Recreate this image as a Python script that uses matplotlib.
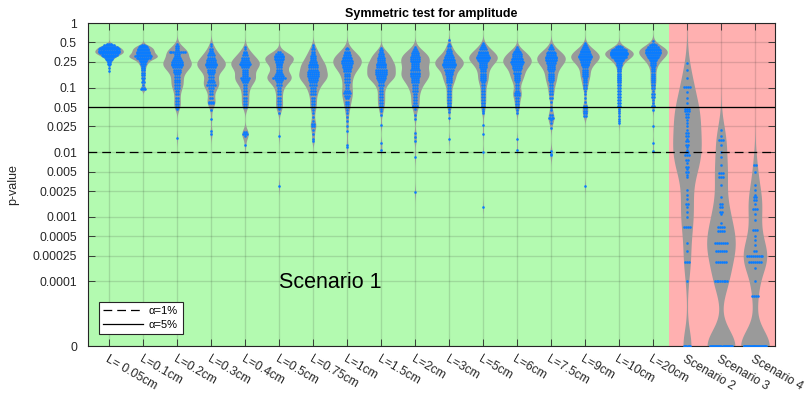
import numpy as np
import matplotlib
matplotlib.use('Agg')
import matplotlib.pyplot as plt
from matplotlib.transforms import ScaledTranslation

plt.rcParams['font.family'] = ['Liberation Sans', 'DejaVu Sans']

categories = ['L= 0.05cm', 'L=0.1cm', 'L=0.2cm', 'L=0.3cm', 'L=0.4cm', 'L=0.5cm',
              'L=0.75cm', 'L=1cm', 'L=1.5cm', 'L=2cm', 'L=3cm', 'L=5cm', 'L=6cm',
              'L=7.5cm', 'L=9cm', 'L=10cm', 'L=20cm', 'Scenario 2', 'Scenario 3', 'Scenario 4']

# p-values, as (value, number of runs at that value)
v_L005 = [0.47, 0.45, 0.43, 0.41, 0.39, 0.37, 0.355, 0.34, 0.325, 0.31, 0.295, 0.28, 0.265, 0.25,
          0.235, 0.22, 0.20, 0.18]
n_L005 = [3, 6, 9, 11, 12, 12, 12, 11, 9, 7, 5, 4, 3, 2, 2, 1, 1, 1]
v_L01 = [0.46, 0.44, 0.42, 0.40, 0.38, 0.36, 0.34, 0.32, 0.305, 0.29, 0.275, 0.26, 0.245, 0.23,
         0.215, 0.20, 0.185, 0.17, 0.155, 0.14, 0.13, 0.12, 0.11, 0.10, 0.095]
n_L01 = [2, 4, 5, 6, 6, 7, 7, 8, 10, 8, 5, 4, 3, 3, 2, 2, 2, 2, 2, 2, 1, 2, 1, 2, 3]
v_L02 = [0.47, 0.44, 0.41, 0.385, 0.36, 0.335, 0.31, 0.29, 0.27, 0.25, 0.235, 0.22, 0.205, 0.19,
         0.175, 0.16, 0.145, 0.13, 0.12, 0.11, 0.10, 0.09, 0.08, 0.07, 0.062, 0.055, 0.05, 0.047,
         0.0165]
n_L02 = [1, 2, 2, 2, 9, 3, 3, 4, 5, 6, 6, 6, 5, 4, 4, 3, 3, 3, 3, 3, 3, 2, 2, 2, 2, 2, 2, 1, 1]
v_L03 = [0.48, 0.44, 0.40, 0.37, 0.34, 0.315, 0.29, 0.27, 0.25, 0.235, 0.22, 0.205, 0.19, 0.175,
         0.16, 0.145, 0.13, 0.12, 0.11, 0.10, 0.09, 0.08, 0.07, 0.06, 0.057, 0.045, 0.033, 0.021,
         0.019]
n_L03 = [1, 1, 2, 2, 3, 4, 4, 5, 5, 6, 6, 5, 4, 4, 3, 3, 3, 4, 5, 3, 2, 2, 2, 3, 3, 1, 1, 1, 1]
v_L04 = [0.42, 0.39, 0.36, 0.34, 0.315, 0.29, 0.27, 0.25, 0.235, 0.22, 0.205, 0.19, 0.175, 0.16,
         0.15, 0.14, 0.13, 0.12, 0.11, 0.10, 0.09, 0.08, 0.07, 0.062, 0.055, 0.05, 0.0205, 0.019,
         0.018, 0.013]
n_L04 = [1, 1, 2, 2, 3, 4, 4, 5, 6, 5, 4, 3, 3, 3, 3, 5, 4, 3, 2, 2, 2, 2, 2, 2, 2, 2, 2, 3, 1, 1]
v_L05 = [0.35, 0.33, 0.31, 0.295, 0.28, 0.265, 0.25, 0.235, 0.22, 0.205, 0.19, 0.175, 0.16, 0.15,
         0.14, 0.13, 0.12, 0.11, 0.10, 0.09, 0.08, 0.07, 0.062, 0.055, 0.05, 0.046, 0.041, 0.018,
         0.003]
n_L05 = [2, 4, 5, 5, 5, 4, 4, 3, 3, 3, 3, 3, 4, 5, 7, 4, 3, 3, 2, 2, 2, 2, 2, 2, 2, 1, 1, 1, 1]
v_L075 = [0.46, 0.42, 0.39, 0.36, 0.33, 0.31, 0.29, 0.27, 0.25, 0.235, 0.22, 0.205, 0.19, 0.175,
          0.16, 0.15, 0.14, 0.13, 0.12, 0.11, 0.10, 0.09, 0.08, 0.07, 0.062, 0.055, 0.05, 0.045,
          0.04, 0.035, 0.03, 0.027, 0.025, 0.022, 0.019, 0.016, 0.015]
n_L075 = [1, 1, 2, 2, 2, 3, 3, 3, 4, 4, 5, 5, 5, 6, 6, 6, 5, 5, 4, 4, 3, 3, 3, 2, 2, 2, 2, 1, 1,
          1, 1, 2, 2, 1, 1, 1, 1]
v_L1 = [0.41, 0.39, 0.36, 0.34, 0.32, 0.30, 0.285, 0.27, 0.255, 0.24, 0.225, 0.21, 0.195, 0.18,
        0.165, 0.15, 0.135, 0.12, 0.11, 0.10, 0.09, 0.082, 0.075, 0.068, 0.06, 0.055, 0.05, 0.045,
        0.04, 0.035, 0.03, 0.025, 0.021, 0.013, 0.012]
n_L1 = [1, 2, 3, 3, 4, 4, 5, 5, 6, 6, 5, 5, 4, 4, 3, 3, 3, 3, 2, 2, 3, 4, 3, 2, 2, 2, 2, 1, 1, 1,
        1, 1, 1, 1, 1]
v_L15 = [0.41, 0.38, 0.35, 0.33, 0.31, 0.29, 0.27, 0.25, 0.235, 0.22, 0.205, 0.19, 0.175, 0.16,
         0.15, 0.14, 0.13, 0.12, 0.11, 0.10, 0.09, 0.08, 0.072, 0.065, 0.058, 0.052, 0.047, 0.043,
         0.038, 0.026, 0.014, 0.011]
n_L15 = [1, 2, 2, 3, 3, 4, 4, 4, 5, 5, 5, 6, 6, 6, 5, 5, 4, 3, 3, 2, 2, 2, 2, 2, 2, 2, 1, 1, 1,
         1, 1, 1]
v_L2 = [0.43, 0.40, 0.37, 0.34, 0.32, 0.30, 0.28, 0.26, 0.245, 0.23, 0.215, 0.20, 0.185, 0.17,
        0.16, 0.15, 0.14, 0.13, 0.12, 0.11, 0.10, 0.09, 0.08, 0.072, 0.065, 0.058, 0.052, 0.046,
        0.038, 0.033, 0.02, 0.017, 0.015, 0.0085, 0.0024]
n_L2 = [1, 2, 3, 4, 4, 5, 5, 5, 4, 4, 4, 4, 5, 5, 5, 5, 4, 4, 4, 3, 3, 3, 2, 2, 2, 2, 3, 1, 1, 1,
        1, 1, 1, 1, 1]
v_L3 = [0.54, 0.48, 0.44, 0.40, 0.37, 0.34, 0.32, 0.30, 0.28, 0.265, 0.25, 0.235, 0.22, 0.205,
        0.19, 0.175, 0.16, 0.15, 0.14, 0.13, 0.12, 0.11, 0.10, 0.09, 0.08, 0.072, 0.065, 0.058,
        0.052, 0.046, 0.042, 0.034, 0.016]
n_L3 = [1, 1, 2, 2, 3, 3, 4, 5, 5, 6, 6, 7, 7, 6, 5, 4, 4, 3, 3, 3, 3, 2, 2, 2, 2, 2, 2, 2, 2, 1,
        1, 1, 1]
v_L5 = [0.49, 0.45, 0.42, 0.39, 0.36, 0.34, 0.32, 0.30, 0.285, 0.27, 0.255, 0.24, 0.225, 0.21,
        0.195, 0.18, 0.165, 0.15, 0.14, 0.13, 0.12, 0.11, 0.10, 0.09, 0.08, 0.072, 0.065, 0.058,
        0.052, 0.046, 0.043, 0.04, 0.026, 0.019, 0.0102, 0.0014]
n_L5 = [1, 2, 3, 4, 5, 5, 6, 7, 7, 6, 5, 4, 4, 4, 3, 3, 3, 3, 3, 3, 2, 2, 2, 2, 2, 2, 2, 2, 2, 1,
        1, 1, 1, 1, 1, 1]
v_L6 = [0.43, 0.40, 0.37, 0.35, 0.33, 0.31, 0.29, 0.275, 0.26, 0.245, 0.23, 0.215, 0.20, 0.185,
        0.17, 0.16, 0.15, 0.14, 0.13, 0.12, 0.11, 0.10, 0.09, 0.082, 0.078, 0.07, 0.063, 0.056,
        0.05, 0.045, 0.04, 0.016, 0.011]
n_L6 = [1, 2, 3, 4, 5, 5, 5, 6, 6, 7, 6, 5, 5, 4, 4, 3, 3, 3, 3, 2, 2, 2, 2, 3, 3, 2, 2, 2, 2, 1,
        1, 1, 1]
v_L75 = [0.46, 0.42, 0.39, 0.36, 0.34, 0.32, 0.30, 0.285, 0.27, 0.255, 0.24, 0.225, 0.21, 0.195,
         0.18, 0.165, 0.15, 0.14, 0.13, 0.12, 0.11, 0.10, 0.09, 0.08, 0.07, 0.06, 0.05, 0.045,
         0.038, 0.034, 0.031, 0.028, 0.024, 0.0105, 0.0095, 0.009]
n_L75 = [1, 2, 3, 4, 5, 5, 6, 6, 6, 5, 5, 4, 4, 4, 3, 3, 3, 3, 3, 2, 2, 2, 2, 2, 2, 1, 1, 1, 2,
         4, 1, 1, 1, 1, 1, 1]
v_L9 = [0.49, 0.45, 0.42, 0.39, 0.37, 0.35, 0.33, 0.31, 0.295, 0.28, 0.265, 0.25, 0.235, 0.22,
        0.205, 0.19, 0.175, 0.16, 0.15, 0.14, 0.13, 0.12, 0.11, 0.10, 0.09, 0.08, 0.07, 0.06,
        0.052, 0.048, 0.044, 0.04, 0.036, 0.003]
n_L9 = [1, 2, 3, 4, 5, 5, 6, 7, 7, 6, 5, 5, 4, 4, 3, 3, 3, 3, 3, 2, 2, 2, 2, 2, 1, 1, 1, 1, 2, 2,
        2, 2, 2, 1]
v_L10 = [0.44, 0.42, 0.40, 0.38, 0.36, 0.345, 0.33, 0.315, 0.30, 0.285, 0.27, 0.255, 0.24, 0.225,
         0.21, 0.195, 0.18, 0.165, 0.15, 0.14, 0.13, 0.12, 0.11, 0.10, 0.09, 0.08, 0.072, 0.065,
         0.058, 0.052, 0.047, 0.043, 0.04, 0.036, 0.033, 0.03, 0.028]
n_L10 = [2, 4, 6, 8, 9, 10, 10, 9, 8, 6, 5, 4, 3, 3, 2, 2, 2, 2, 2, 2, 2, 2, 2, 2, 2, 2, 2, 2, 2,
         2, 1, 1, 1, 1, 1, 1, 1]
v_L20 = [0.52, 0.48, 0.45, 0.42, 0.40, 0.38, 0.36, 0.34, 0.32, 0.30, 0.285, 0.27, 0.255, 0.24,
         0.225, 0.21, 0.195, 0.18, 0.165, 0.15, 0.14, 0.13, 0.12, 0.11, 0.10, 0.09, 0.08, 0.072,
         0.065, 0.058, 0.052, 0.045, 0.025, 0.014, 0.0105]
n_L20 = [1, 2, 4, 6, 7, 8, 8, 8, 7, 6, 5, 4, 3, 3, 3, 2, 2, 2, 2, 2, 2, 2, 2, 2, 2, 1, 2, 2, 1, 1,
         2, 1, 1, 1, 1]
v_scen2 = [0.24, 0.19, 0.14, 0.103, 0.086, 0.069, 0.058, 0.047, 0.043, 0.039, 0.035, 0.031, 0.028,
           0.025, 0.022, 0.020, 0.018, 0.016, 0.015, 0.013, 0.012, 0.011, 0.010, 0.0091, 0.0075,
           0.0068, 0.006, 0.0055, 0.005, 0.0044, 0.0041, 0.0026, 0.0022, 0.0019, 0.0016, 0.0014,
           0.0012, 0.001, 0.0007, 0.0004, 0.0003, 0.0002, 0.0001, 0]
n_scen2 = [1, 1, 1, 4, 1, 1, 1, 3, 3, 2, 2, 1, 1, 1, 1, 2, 2, 1, 2, 2, 1, 1, 2, 3, 2, 1, 2, 1, 2,
           1, 1, 1, 1, 1, 2, 1, 1, 1, 4, 1, 1, 3, 1, 6]
v_scen3 = [0.022, 0.018, 0.0155, 0.013, 0.010, 0.0085, 0.0063, 0.0048, 0.0042, 0.0031, 0.002,
           0.0016, 0.0014, 0.0012, 0.0011, 0.0008, 0.0007, 0.0006, 0.0004, 0.0003, 0.0002,
           0.0001, 0]
n_scen3 = [1, 1, 3, 1, 1, 1, 1, 3, 3, 1, 1, 2, 2, 2, 1, 1, 4, 4, 7, 6, 6, 8, 22]
v_scen4 = [0.0063, 0.005, 0.0031, 0.0026, 0.0022, 0.002, 0.0018, 0.0016, 0.0013, 0.0011, 0.0009,
           0.00063, 0.0005, 0.00044, 0.00037, 0.0003, 0.00025, 0.0002, 0.00016, 0.0001,
           0.00006, 0]
n_scen4 = [2, 1, 1, 1, 1, 2, 2, 1, 3, 1, 1, 3, 1, 1, 1, 2, 9, 7, 1, 1, 4, 26]

group_values = [v_L005, v_L01, v_L02, v_L03, v_L04, v_L05, v_L075, v_L1, v_L15, v_L2, v_L3,
                v_L5, v_L6, v_L75, v_L9, v_L10, v_L20, v_scen2, v_scen3, v_scen4]
group_counts = [n_L005, n_L01, n_L02, n_L03, n_L04, n_L05, n_L075, n_L1, n_L15, n_L2, n_L3,
                n_L5, n_L6, n_L75, n_L9, n_L10, n_L20, n_scen2, n_scen3, n_scen4]

ytick_values = [0, 0.0001, 0.00025, 0.0005, 0.001, 0.0025, 0.005, 0.01, 0.025, 0.05, 0.1,
                0.25, 0.5, 1]
ytick_labels = ['0', '0.0001', '0.00025', '0.0005', '0.001', '0.0025', '0.005', '0.01',
                '0.025', '0.05', '0.1', '0.25', '0.5', '1']
alpha_levels = [0.01, 0.05]
alpha_labels = ['\u03b1=1%', '\u03b1=5%']

FLOOR = 1e-5


def to_log(p):
    return np.log10(np.maximum(np.asarray(p, dtype=float), FLOOR))


fig = plt.figure(figsize=(8.09, 4.03), dpi=100)
ax = fig.add_axes([88 / 809, 1 - 346 / 403, (775 - 88) / 809, (346 - 23) / 403])
positions = np.arange(1, len(categories) + 1)
x0, x1 = 0.38, 20.59
ax.set_xlim(x0, x1)
ax.set_ylim(-5, 0)

ax.axvspan(x0, 17.47, color='#b3fab0', lw=0, zorder=0)
ax.axvspan(17.47, x1, color='#ffb0b0', lw=0, zorder=0)

VCOL = '#9a9a9a'
PCOL = '#0a7cff'
MAXW = 0.42
for pos, vals, cnts in zip(positions, group_values, group_counts):
    yv = to_log(vals)
    w8 = np.asarray(cnts, dtype=float)
    y = np.repeat(yv, cnts)
    n = len(y)
    sd = np.std(y, ddof=1)
    q75, q25 = np.percentile(y, [75, 25])
    iqr_s = (q75 - q25) / 1.34
    s = min(sd, iqr_s) if sd < 0.5 else sd
    h = float(np.clip(0.7 * 0.9 * s * n ** -0.2, 0.03, 0.25))
    g = np.linspace(y.min() - 3 * h, y.max() + 3 * h, 800)
    dens = (w8[None, :] * np.exp(-0.5 * ((g[:, None] - yv[None, :]) / h) ** 2)).sum(1)
    hw = dens / dens.max() * MAXW
    ax.fill_betweenx(g, pos - hw, pos + hw, color=VCOL, lw=0, zorder=2)

    xs_all, ys_all = [], []
    for yy, k in zip(yv, cnts):
        sp = 0.055
        if k > 1:
            w = np.interp(yy, g, hw)
            w = max(w * 0.8, 0.05)
            sp = min(sp, 2 * w / (k - 1))
        off = (np.arange(k) - (k - 1) / 2) * sp
        xs_all.extend(pos + off)
        ys_all.extend([yy] * k)
    ax.scatter(xs_all, ys_all, s=3.5, marker='o', color=PCOL, lw=0, zorder=3)

styles = [(0, (7, 4)), '-']
for lvl, lab, ls in zip(alpha_levels, alpha_labels, styles):
    ax.axhline(np.log10(lvl), color='k', lw=0.9, ls=ls, zorder=4, label=lab)

ax.text(6.0, -4.02, 'Scenario 1', fontsize=15.5, ha='left', va='center', zorder=5)

ax.set_yticks(to_log(ytick_values))
ax.set_yticklabels(ytick_labels, fontsize=8.7, color='#262626')
ax.set_xticks(positions)
ax.set_xticklabels(categories, fontsize=8.7, color='#262626', rotation=-30,
                   ha='left', va='top', rotation_mode='anchor')
for lab in ax.get_xticklabels():
    lab.set_transform(lab.get_transform() + ScaledTranslation(-6 / 100, -2 / 100, fig.dpi_scale_trans))

ax.tick_params(axis='both', which='both', direction='in', top=True, right=True,
               length=5, width=0.6, color='#262626')
ax.tick_params(axis='y', pad=8)
ax.tick_params(axis='x', pad=5)
ax.grid(True, color='#262626', alpha=0.15, lw=1)
ax.set_axisbelow(True)
for sp_ in ax.spines.values():
    sp_.set_color('#262626')
    sp_.set_linewidth(0.8)

ax.set_title('Symmetric test for amplitude', fontsize=9, fontweight='bold', pad=4)
ax.set_ylabel('p-value', fontsize=9, color='#262626')
ax.yaxis.set_label_coords(-0.1, 0.5)

leg = ax.legend(loc='lower left', bbox_to_anchor=(0.016, 0.037), fontsize=8,
                frameon=True, fancybox=False, edgecolor='#262626', framealpha=1,
                handlelength=3.6, borderpad=0.4, labelspacing=0.3, handletextpad=0.5,
                borderaxespad=0)
leg.get_frame().set_linewidth(0.8)

fig.savefig('out.png', dpi=100)
